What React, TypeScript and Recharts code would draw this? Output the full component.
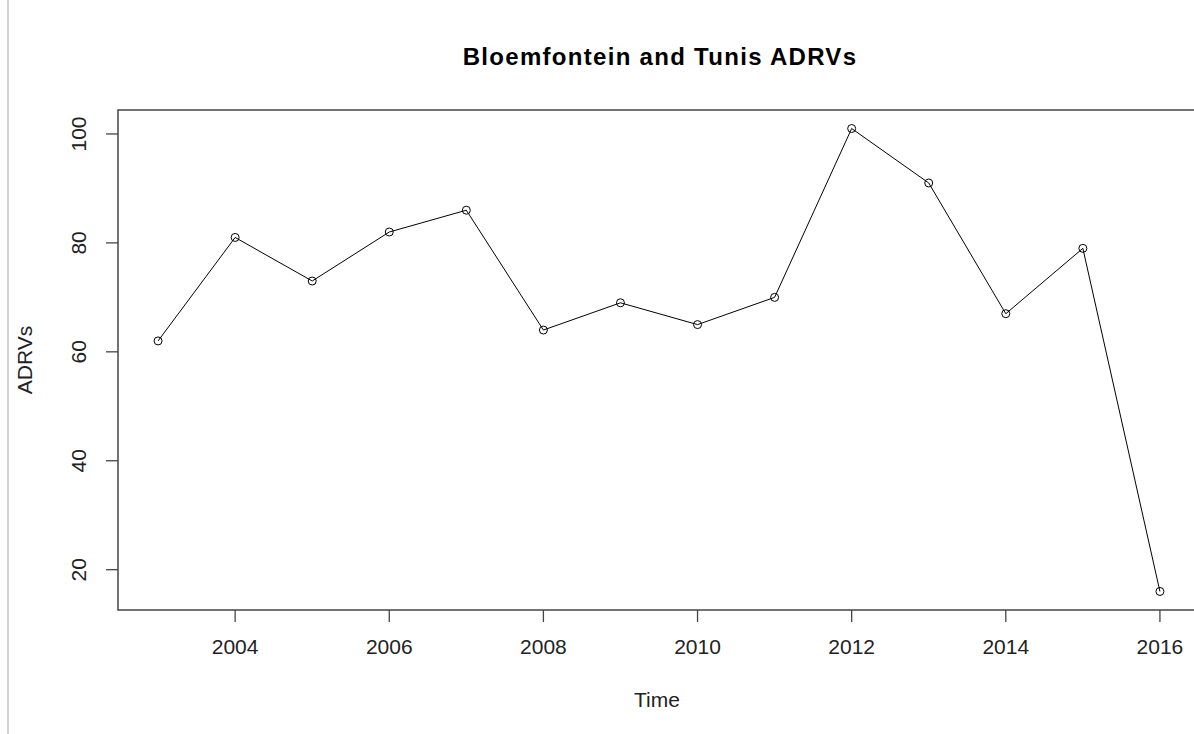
import { LineChart, Line, XAxis, YAxis, ReferenceArea } from 'recharts';

// yearly ADRV counts, Bloemfontein and Tunis
const years = [2003, 2004, 2005, 2006, 2007, 2008, 2009, 2010, 2011, 2012, 2013, 2014, 2015, 2016];
const adrvs = [62, 81, 73, 82, 86, 64, 69, 65, 70, 101, 91, 67, 79, 16];

const xTicks = [2004, 2006, 2008, 2010, 2012, 2014, 2016];
const yTicks = [20, 40, 60, 80, 100];

const data = years.map((year, i) => ({ year, adrvs: adrvs[i] }));

// R pads the range by 4% on each side
const xDomain = [2002.48, 2016.52];
const yDomain = [12.6, 104.4];

const font = '"Liberation Sans", Arial, sans-serif';
const axisColor = '#444';

const YTick = (props: any) => {
  const { x, y, payload } = props;
  const cx = x - 25;
  return (
    <text
      x={cx}
      y={y}
      transform={`rotate(-90, ${cx}, ${y})`}
      textAnchor="middle"
      dominantBaseline="central"
      fontSize={21}
      fontFamily={font}
      fill="#222"
    >
      {payload.value}
    </text>
  );
};

export default function App() {
  return (
    <div
      style={{
        position: 'absolute',
        left: 0,
        top: 0,
        width: 1194,
        height: 734,
        overflow: 'hidden',
        background: '#fff',
        fontFamily: font,
      }}
    >
      <div style={{ position: 'absolute', left: 7, top: 0, width: 2, height: 734, background: '#d0d0d0' }} />
      <div
        style={{
          position: 'absolute',
          left: 0,
          width: 1320,
          top: 43,
          textAlign: 'center',
          fontWeight: 'bold',
          fontSize: 24,
          letterSpacing: 1.3,
          color: '#000',
        }}
      >
        Bloemfontein and Tunis ADRVs
      </div>
      <div
        style={{
          position: 'absolute',
          left: 0,
          width: 1314,
          top: 688,
          textAlign: 'center',
          fontSize: 21,
          color: '#222',
        }}
      >
        Time
      </div>
      <div
        style={{
          position: 'absolute',
          left: 25,
          top: 360,
          transform: 'translate(-50%, -50%) rotate(-90deg)',
          fontSize: 21,
          color: '#222',
          whiteSpace: 'nowrap',
        }}
      >
        ADRVs
      </div>
      <div style={{ position: 'absolute', left: 0, top: 0 }}>
        <LineChart width={1230} height={734} data={data} margin={{ top: 110, right: 30, bottom: 0, left: 0 }}>
          <XAxis
            dataKey="year"
            type="number"
            domain={xDomain}
            ticks={xTicks}
            allowDataOverflow
            height={124}
            axisLine={false}
            tickLine={{ stroke: axisColor, strokeWidth: 1.3 }}
            tickSize={12}
            tickMargin={17}
            tick={{ fontSize: 21, fontFamily: font, fill: '#222' }}
          />
          <YAxis
            type="number"
            domain={yDomain}
            ticks={yTicks}
            allowDataOverflow
            width={118}
            axisLine={false}
            tickLine={{ stroke: axisColor, strokeWidth: 1.3 }}
            tickSize={12}
            tick={<YTick />}
          />
          <ReferenceArea
            x1={xDomain[0]}
            x2={xDomain[1]}
            y1={yDomain[0]}
            y2={yDomain[1]}
            fill="none"
            fillOpacity={0}
            stroke={axisColor}
            strokeWidth={1.5}
          />
          <Line
            type="linear"
            dataKey="adrvs"
            stroke="#000"
            strokeWidth={1}
            dot={{ r: 4, fill: 'none', stroke: '#000', strokeWidth: 1 }}
            isAnimationActive={false}
          />
        </LineChart>
      </div>
    </div>
  );
}
